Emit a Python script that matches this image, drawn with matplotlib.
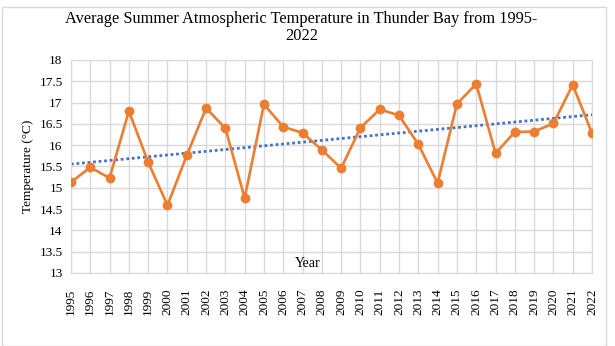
import numpy as np
import matplotlib.pyplot as plt
from matplotlib.patches import Rectangle

plt.rcParams['font.family'] = ['Liberation Serif', 'DejaVu Serif']

# average summer temperature, Thunder Bay
years = list(range(1995, 2023))
temps = [15.13, 15.48, 15.23, 16.80, 15.60, 14.59, 15.76, 16.87, 16.40, 14.76,
         16.96, 16.43, 16.29, 15.89, 15.46, 16.41, 16.84, 16.70, 16.02, 15.11,
         16.97, 17.44, 15.81, 16.31, 16.32, 16.51, 17.42, 16.28]
yticks = np.arange(13, 18.01, 0.5)

fig = plt.figure(figsize=(6.15, 3.46), dpi=100)
ax = fig.add_axes([0.1154, 0.211, 0.8472, 0.6156])

# linear trend line, like excel's
coef = np.polyfit(years, temps, 1)
ax.plot(years, np.polyval(coef, years), color='#4472C4', lw=2, ls=(0, (1, 1)), zorder=2)
ax.plot(years, temps, color='#ED7D31', lw=1.9, marker='o', ms=6, zorder=3)

ax.set_xlim(1995, 2022)
ax.set_ylim(13, 18)
ax.set_xticks(years)
ax.set_xticklabels([str(y) for y in years], rotation=90, fontsize=9.5)
ax.set_yticks(yticks)
ax.set_yticklabels(['%g' % t for t in yticks], fontsize=9.5)
ax.tick_params(length=0, pad=6)
ax.tick_params(axis='x', pad=11)
ax.grid(True, color='#d9d9d9', lw=1)
ax.set_axisbelow(True)
for s in ax.spines.values():
    s.set_color('#d9d9d9')

ax.set_ylabel('Temperature (°C)', fontsize=9.5, labelpad=4)
ax.text(0.455, 0.015, 'Year', transform=ax.transAxes, fontsize=10, ha='center', va='bottom')
fig.suptitle('Average Summer Atmospheric Temperature in Thunder Bay from 1995-\n2022',
             fontsize=11.8, x=0.49, y=0.968, linespacing=1.1)

# outer chart-area border
fig.patches.append(Rectangle((0.004, 0.0), 0.982, 0.98, transform=fig.transFigure,
                             fill=False, edgecolor='#d9d9d9', lw=1))

fig.savefig('out.png', dpi=100)
